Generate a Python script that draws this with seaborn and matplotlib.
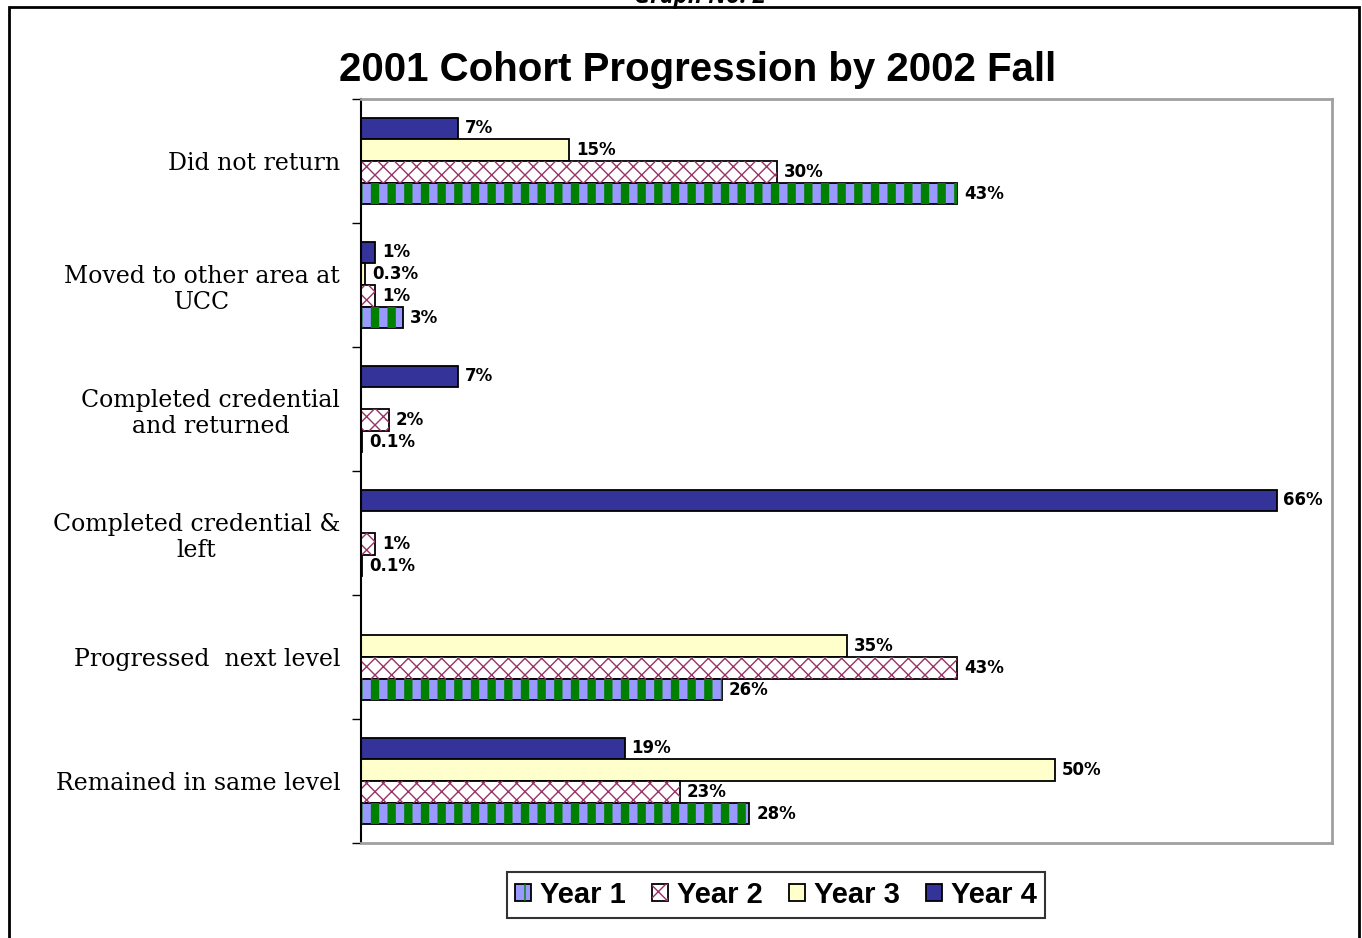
import numpy as np
import pandas as pd
import matplotlib
matplotlib.use('Agg')
import matplotlib.pyplot as plt
import matplotlib.patches as mpatches
import seaborn as sns


categories = ['Did not return', 'Moved to other area at\nUCC', 'Completed credential\nand returned',
              'Completed credential &\nleft', 'Progressed  next level', 'Remained in same level']
year_1 = [43, 3, 0.1, 0.1, 26, 28]
year_2 = [30, 1, 2, 1, 43, 23]
year_3 = [15, 0.3, np.nan, np.nan, 35, 50]
year_4 = [7, 1, 7, 66, np.nan, 19]
years = ['Year 1', 'Year 2', 'Year 3', 'Year 4']

COLORS = {'Year 1': '#9999FF', 'Year 2': '#FFFFFF', 'Year 3': '#FFFFCC', 'Year 4': '#333399'}
# hatch pattern, hatch colour, hatch linewidth
HATCHES = {'Year 1': ('|', '#008000', 6.0), 'Year 2': ('xx', '#993366', 1.0)}


def build_frame():
    """
        Long-form table of the four series.
    """
    frames = []
    for name, values in zip(years, [year_1, year_2, year_3, year_4]):
        frames.append(pd.DataFrame({'category': categories, 'year': name, 'value': values}))
    return pd.concat(frames, ignore_index=True)


def hatch_patch(xy, w, h, name, lw=None):
    hatch, color, hlw = HATCHES[name]
    hlw = hlw if lw is None else lw
    with plt.rc_context({'hatch.linewidth': hlw, 'hatch.color': color}):
        over = mpatches.Rectangle(xy, w, h, fill=False, hatch=hatch, edgecolor=color, linewidth=0)
    if hasattr(over, 'set_hatch_linewidth'):
        over.set_hatch_linewidth(hlw)
    return over


def main():
    sns.set_theme(style='white')
    plt.rcParams['font.family'] = ['Liberation Sans', 'DejaVu Sans']
    plt.rcParams['text.color'] = 'black'
    plt.rcParams['axes.labelcolor'] = 'black'
    plt.rcParams['ytick.color'] = 'black'

    data = build_frame()
    fig = plt.figure(figsize=(13.62, 9.38), dpi=100)
    ax = fig.add_axes([361 / 1362, 1 - 843 / 938, (1332 - 361) / 1362, (843 - 99) / 938])

    hue_order = ['Year 4', 'Year 3', 'Year 2', 'Year 1']
    sns.barplot(data=data, y='category', x='value', hue='year', hue_order=hue_order, order=categories,
                palette=COLORS, saturation=1, width=0.7, edgecolor='black', linewidth=1.3,
                legend=False, ax=ax)

    handles = {}
    for name, container in zip(hue_order, ax.containers):
        if name in HATCHES:
            for p in container.patches:
                ax.add_patch(hatch_patch(p.get_xy(), p.get_width(), p.get_height(), name))
        labels = [f'{v:.1f}%' if v < 1 else f'{v:.0f}%' for v in container.datavalues]
        ax.bar_label(container, labels=labels, padding=5, fontsize=12, fontweight='bold',
                     family='DejaVu Sans', color='black')
        h = mpatches.Rectangle((0, 0), 1, 1, facecolor=COLORS[name], edgecolor='black', linewidth=1.3)
        if name in HATCHES:
            handles[name] = (h, hatch_patch((0, 0), 1, 1, name, lw=min(HATCHES[name][2], 3.0)))
        else:
            handles[name] = h

    ax.set_xlim(0, 70)
    ax.set_xticks([])
    ax.set_xlabel('')
    ax.set_ylabel('')
    ax.set_yticks(range(len(categories)))
    ax.set_yticklabels(categories, family='DejaVu Serif', fontsize=17, multialignment='center',
                       color='black')
    ax.set_yticks(np.arange(-0.5, len(categories), 1), minor=True)
    ax.tick_params(axis='y', which='major', length=0, pad=15)
    ax.tick_params(axis='y', which='minor', length=6.5, width=1, color='black', direction='out', left=True)

    for side in ['top', 'right', 'bottom']:
        ax.spines[side].set_color('#A0A0A0')
        ax.spines[side].set_linewidth(2)
    ax.spines['left'].set_color('black')
    ax.spines['left'].set_linewidth(1.5)

    fig.text(698 / 1362, 1 - 70 / 938, '2001 Cohort Progression by 2002 Fall', ha='center', va='center',
             fontsize=29, fontweight='bold', color='black')
    fig.text(700 / 1362, 1 - 3 / 938, 'Graph No. 2', ha='center', va='baseline', fontsize=17,
             fontweight='bold', style='italic', family='Open Sans', color='black')

    leg = fig.legend([handles[y] for y in years], years, loc='center', ncol=4,
                     bbox_to_anchor=(776 / 1362, 1 - 895 / 938), frameon=True, fancybox=False,
                     prop={'weight': 'bold', 'size': 21}, handlelength=0.55, handleheight=0.55,
                     handletextpad=0.3, columnspacing=0.9, borderpad=0.3)
    leg.get_frame().set_edgecolor('black')
    leg.get_frame().set_linewidth(1.5)
    for t in leg.get_texts():
        t.set_color('black')

    fig.add_artist(mpatches.Rectangle((9 / 1362, -0.05), 1350 / 1362, 1.05 - 7 / 938, fill=False,
                                      edgecolor='black', linewidth=2, transform=fig.transFigure))

    fig.savefig('out.png', dpi=100)


if __name__ == '__main__':
    main()
